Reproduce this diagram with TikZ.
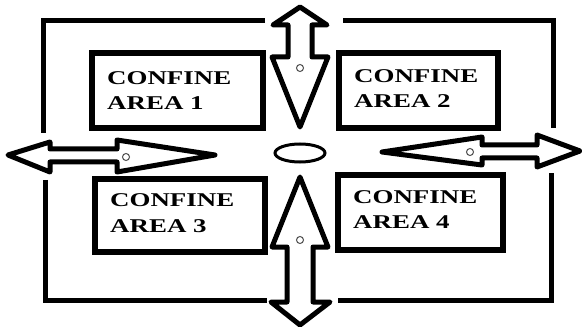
\documentclass[tikz,border=0pt]{standalone}
\usepackage{fontspec}
\setmainfont{Liberation Serif}
\usepackage{xcolor}

\begin{document}
\begin{tikzpicture}[x=1pt,y=-1pt,
  frameline/.style={line width=5pt,line cap=butt},
  areabox/.style={line width=5.5pt},
  arealabel/.style={anchor=base west,align=left,inner sep=0pt,
    font=\fontsize{19.5}{25}\selectfont\bfseries},
  flowarrow/.style={line width=5pt,line join=round,fill=white},
  hole/.style={line width=1pt,color=black!70}]
\useasboundingbox (0.000000, 0.000000) rectangle (582.000000, 329.000000);
% Drawing outer frame
\draw[frameline] (265.000000, 21.000000) -- (43.000000, 21.000000) -- (43.000000, 133.000000);
\draw[frameline] (343.000000, 21.000000) -- (553.000000, 21.000000) -- (553.000000, 128.000000);
\draw[frameline] (45.000000, 180.000000) -- (45.000000, 300.000000) -- (267.000000, 300.000000);
\draw[frameline] (338.000000, 300.000000) -- (551.000000, 300.000000) -- (551.000000, 173.000000);
% Drawing confine areas (label anchored on its last line)
\draw[areabox] (92.000000, 53.000000) rectangle (263.000000, 128.000000);
\node[arealabel] (area1) at (107.000000, 110.000000) {\scalebox{1.38}[1]{CONFINE}\\\scalebox{1.38}[1]{AREA 1}};
\draw[areabox] (339.000000, 53.000000) rectangle (498.000000, 128.000000);
\node[arealabel] (area2) at (354.000000, 108.000000) {\scalebox{1.38}[1]{CONFINE}\\\scalebox{1.38}[1]{AREA 2}};
\draw[areabox] (95.000000, 179.000000) rectangle (265.000000, 252.000000);
\node[arealabel] (area3) at (110.000000, 232.000000) {\scalebox{1.38}[1]{CONFINE}\\\scalebox{1.38}[1]{AREA 3}};
\draw[areabox] (338.000000, 175.000000) rectangle (503.000000, 250.000000);
\node[arealabel] (area4) at (353.000000, 229.000000) {\scalebox{1.38}[1]{CONFINE}\\\scalebox{1.38}[1]{AREA 4}};
% Drawing arrows
% Arrow 1: top, small head up, big head down
\draw[flowarrow] (300.000000, 7.000000) -- (327.000000, 25.000000) -- (312.000000, 25.000000)
  -- (312.000000, 57.000000) -- (328.000000, 57.000000) -- (300.000000, 127.000000)
  -- (272.000000, 57.000000) -- (288.000000, 57.000000) -- (288.000000, 25.000000)
  -- (273.000000, 25.000000) -- cycle;
\draw[hole] (300.000000, 68.000000) circle(3.500000pt);
% Arrow 2: bottom, big head up, small head down
\draw[flowarrow] (300.000000, 177.000000) -- (328.000000, 247.000000) -- (313.000000, 247.000000)
  -- (313.000000, 302.000000) -- (330.000000, 302.000000) -- (300.000000, 325.000000)
  -- (271.000000, 302.000000) -- (287.000000, 302.000000) -- (287.000000, 247.000000)
  -- (272.000000, 247.000000) -- cycle;
\draw[hole] (300.000000, 240.000000) circle(3.500000pt);
% Arrow 3: left, small head left, big head right
\draw[flowarrow] (8.000000, 155.000000) -- (50.000000, 142.000000) -- (50.000000, 149.000000)
  -- (117.000000, 149.000000) -- (117.000000, 140.000000) -- (215.000000, 155.000000)
  -- (117.000000, 172.000000) -- (117.000000, 162.000000) -- (50.000000, 162.000000)
  -- (50.000000, 172.000000) -- cycle;
\draw[hole] (126.000000, 157.000000) circle(3.500000pt);
% Arrow 4: right, big head left, small head right
\draw[flowarrow] (382.000000, 152.000000) -- (482.000000, 137.000000) -- (482.000000, 145.000000)
  -- (537.000000, 145.000000) -- (537.000000, 135.000000) -- (580.000000, 151.000000)
  -- (537.000000, 167.000000) -- (537.000000, 158.000000) -- (482.000000, 158.000000)
  -- (482.000000, 165.000000) -- cycle;
\draw[hole] (470.000000, 152.000000) circle(3.500000pt);
% Drawing centre
\draw[line width=3pt] (300.000000, 153.000000) ellipse(25.000000pt and 9.000000pt);
\end{tikzpicture}
\end{document}
